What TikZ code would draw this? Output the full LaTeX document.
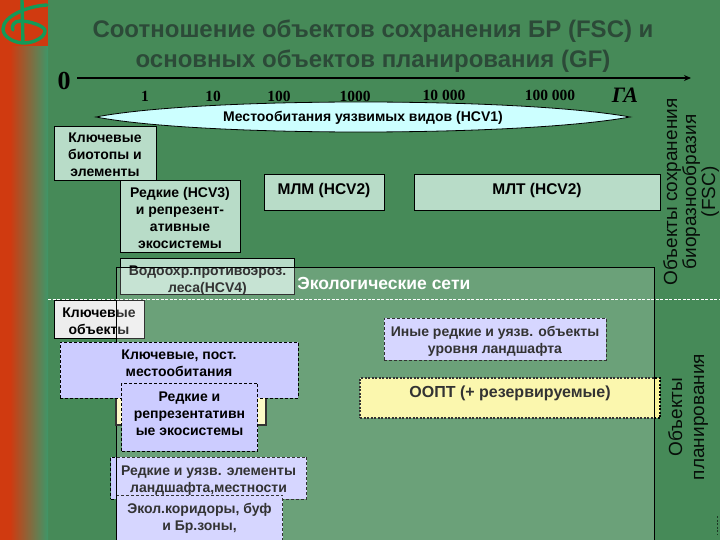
\documentclass[tikz,border=0pt]{standalone}
\usepackage{fontspec}
\setmainfont{Liberation Sans}
\newfontfamily\numfont{Liberation Serif}
\usetikzlibrary{arrows.meta}
\definecolor{fondo}{HTML}{468A58}
\definecolor{rojo}{HTML}{D03A10}
\definecolor{verde}{HTML}{3F9668}
\definecolor{logoverde}{HTML}{149A58}
\definecolor{oscuro}{HTML}{2C4A38}
\definecolor{cajaverde}{HTML}{B8DCC8}
\definecolor{lila}{HTML}{CCCCFF}
\definecolor{amarillo}{HTML}{FBF59A}
\definecolor{celeste}{HTML}{CCFFFF}
\begin{document}
\begin{tikzpicture}[x=1pt, y=-1pt, line width=0.8pt,
    boldtext/.style={font=\bfseries\fontsize{14}{17}\selectfont, align=center, inner sep=0pt},
    bigtext/.style={font=\bfseries\fontsize{15.5}{18}\selectfont},
    greenbox/.style={boldtext, draw=black, fill=cajaverde},
    lilabox/.style={boldtext, draw=black, dashed, dash pattern=on 3pt off 2pt, fill=lila},
    scalenum/.style={font=\numfont\bfseries\fontsize{15.5}{17}\selectfont, inner sep=0pt},
    sidetext/.style={font=\fontsize{19}{19}\selectfont, text=black!90!fondo, rotate=90, align=center, inner sep=0pt}]
    \clip (0,0) rectangle (720,540);

    % Fondo y franja
    \fill[fondo] (0,0) rectangle (720,540);
    \fill[rojo] (0,0) rectangle (10,540);
    \shade[left color=rojo, right color=verde] (10,0) rectangle (48,540);

    % Logo
    \fill[rojo] (0,0) rectangle (48,46);
    \draw[logoverde, line width=3.4pt, line cap=round] (47,5) .. controls (28,6) and (3,16) .. (3,29)
        .. controls (3,37) and (14,43) .. (24,43) .. controls (34,43) and (45,37) .. (45,31)
        .. controls (45,26) and (30,21) .. (20,21) .. controls (14,21) and (11,26) .. (13,30);
    \draw[logoverde, line width=3.4pt] (22,0) -- (23,43);

    % Titulo
    \node[font=\bfseries\fontsize{24}{29.5}\selectfont, text=oscuro, align=center, inner sep=0pt] (titulo) at (373,46)
        {Соотношение объектов сохранения БР (FSC) и\\основных объектов планирования (GF)};

    % Escala
    \node[font=\numfont\bfseries\fontsize{26}{26}\selectfont, inner sep=0pt] (cero) at (64,81) {0};
    \coordinate (ejeini) at (77,78);
    \coordinate (ejefin) at (691,78);
    \draw[-{Stealth[length=7pt,width=6pt]}, line width=1.6pt] (ejeini) -- (ejefin);
    \node[scalenum] (n1) at (145,96) {1};
    \node[scalenum] (n2) at (213,96) {10};
    \node[scalenum] (n3) at (279,96) {100};
    \node[scalenum] (n4) at (355,96) {1000};
    \node[scalenum] (n5) at (444,95) {10 000};
    \node[scalenum] (n6) at (550,95) {100 000};
    \node[font=\numfont\bfseries\itshape\fontsize{22}{22}\selectfont, inner sep=0pt] (ga) at (625,95) {ГА};

    % Lente
    \fill[celeste, draw=black] (96,117) .. controls (200,97) and (520,97) .. (630,117)
        .. controls (520,137) and (200,137) .. (96,117) -- cycle;
    \node[boldtext] (hcv1) at (363,118) {Местообитания уязвимых видов (HCV1)};

    % Cajas de arriba
    \node[greenbox, minimum width=102pt, minimum height=54pt, text height=51pt, text depth=3pt] (biotopy) at (105,153) {Ключевые\\биотопы и\\элементы};
    \node[greenbox, minimum width=120pt, minimum height=72pt, text height=67pt, text depth=3pt] (hcv3) at (180,216) {Редкие (HCV3)\\и репрезент-\\ативные\\экосистемы};
    \node[greenbox, bigtext, minimum width=120pt, minimum height=36pt, text depth=7pt] (mlm) at (324,192) {МЛМ (HCV2)};
    \node[greenbox, bigtext, minimum width=246pt, minimum height=36pt, text depth=7pt] (mlt) at (537,192) {МЛТ (HCV2)};
    \node[greenbox, minimum width=174pt, minimum height=36pt, text height=33pt, text depth=1pt] (vodo) at (207.5,276) {Водоохр.противоэроз.\\леса(HCV4)};

    % Cajas bajo el panel
    \node[boldtext, draw=black, fill=white!93!black, minimum width=90pt, minimum height=38pt, text height=33pt, text depth=3pt] (kobj) at (99,319) {Ключевые\\объекты};
    \node[lilabox, minimum width=196pt, minimum height=42pt, text height=31pt, text depth=3pt] (elem) at (208.5,478) {Редкие и уязв. элементы\\ландшафта,местности};
    \node[lilabox, minimum width=166pt, minimum height=60pt, text depth=17pt] (ekol) at (199.5,525) {Экол.коридоры, буф\\и Бр.зоны,};
    \node[lilabox, minimum width=222pt, minimum height=42pt, text height=31pt, text depth=3pt] (inye) at (495,339) {Иные редкие и уязв. объекты\\уровня ландшафта};
    \node[boldtext, draw=black, dash pattern=on 2pt off 1.5pt, line width=1.2pt, fill=amarillo, minimum width=300pt, minimum height=40pt, text depth=12pt, font=\bfseries\fontsize{16}{18}\selectfont] (oopt) at (510,398) {ООПТ (+ резервируемые)};

    % Panel
    \draw[fill=white, fill opacity=0.2] (116.5,267) rectangle (654,545);
    \node[font=\bfseries\fontsize{17.5}{20}\selectfont, text=white, inner sep=0pt, anchor=west] (seti) at (297,283) {Экологические сети};
    \coordinate (divini) at (48,299.5);
    \coordinate (divfin) at (720,299.5);
    \draw[white, dashed, dash pattern=on 3pt off 1.5pt, line width=1pt] (divini) -- (divfin);

    % Cajas sobre el panel
    \node[boldtext, draw=black!80, line width=1.6pt, fill=amarillo!55!white, minimum width=150pt, minimum height=50pt] (ooptb) at (191,400) {};
    \node[lilabox, minimum width=238pt, minimum height=56pt, text depth=13pt] (kmest) at (179,370) {Ключевые, пост.\\местообитания};
    \node[lilabox, minimum width=136pt, minimum height=68pt, text depth=6pt] (redk) at (189.5,417) {Редкие и\\репрезентативн\\ые экосистемы};

    % Textos laterales
    \node[sidetext] (fsc) at (691,192) {Объекты сохранения\\биоразнообразия\\(FSC)};
    \node[sidetext, font=\fontsize{19}{22}\selectfont] (plan) at (688,417) {Объекты\\планирования};

    % Marca inferior
    \coordinate (marcaini) at (717,516);
    \coordinate (marcafin) at (717,535);
    \draw[black!60!fondo, dashed, dash pattern=on 2pt off 1.5pt, line width=0.5pt] (marcaini) -- (marcafin);
\end{tikzpicture}
\end{document}
